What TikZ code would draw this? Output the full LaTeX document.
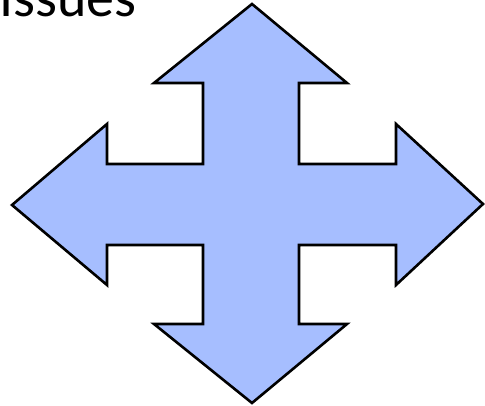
\documentclass[tikz,border=0pt]{standalone}
\usepackage{fontspec}
\setmainfont{Carlito}
\usetikzlibrary{positioning}

\definecolor{arrowblue}{RGB}{166,190,255}

\begin{document}
\begin{tikzpicture}[
    x=1pt, y=-1pt,          % ピクセル座標で指定（y は下向き）
    line join=miter,
    % 十字矢印のスタイル定義
    cross_arrow/.style={
        fill=arrowblue,
        draw=black,
        line width=2.6pt
    },
    title_text/.style={
        font=\fontsize{56}{60}\selectfont,
        inner sep=0pt,
        anchor=base west
    }
]

    % --- 0. 画像の範囲 ---
    \useasboundingbox (0, 0) rectangle (485, 406);
    \clip (0, 0) rectangle (485, 406);

    % --- 1. 見出し（上端で切れている） ---
    \node [title_text] (title) at (-1, 17) {Issues};

    % --- 2. 四方向の矢印 ---
    \draw [cross_arrow]
        (252, 4)                                  % 上の先端
        -- (347, 83) -- (299, 83) -- (299, 164)
        -- (396, 164) -- (396, 124) -- (483, 204) % 右の先端
        -- (396, 285) -- (396, 245) -- (299, 245)
        -- (299, 324) -- (347, 324) -- (252, 403) % 下の先端
        -- (154, 324) -- (203, 324) -- (203, 245)
        -- (107, 245) -- (107, 285) -- (12, 205)  % 左の先端
        -- (107, 124) -- (107, 164) -- (203, 164)
        -- (203, 83) -- (154, 83)
        -- cycle;

\end{tikzpicture}
\end{document}
